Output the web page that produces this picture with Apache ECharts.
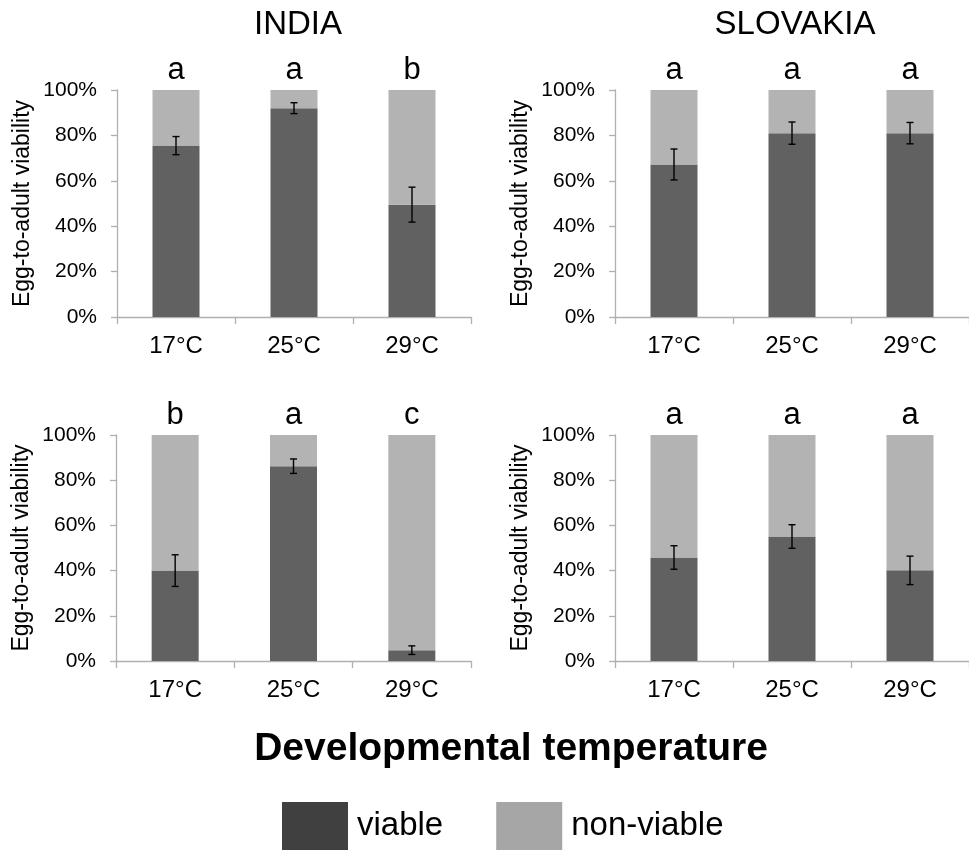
<!DOCTYPE html>
<html>
<head>
<meta charset="utf-8">
<script src="https://cdn.jsdelivr.net/npm/echarts@6/dist/echarts.min.js"></script>
<style>
html,body{margin:0;padding:0;background:#fff;}
#chart{width:969px;height:850px;}
</style>
</head>
<body>
<div id="chart"></div>
<script>
// ---- data ----
const categories = ['17°C', '25°C', '29°C'];
const columnTitles = ['INDIA', 'SLOVAKIA'];

const indiaTopViable = [75.5, 92.0, 49.5];
const indiaTopErr = [4.0, 2.4, 7.7];
const indiaTopLetters = ['a', 'a', 'b'];

const slovakiaTopViable = [67.2, 81.0, 81.0];
const slovakiaTopErr = [6.8, 4.9, 4.7];
const slovakiaTopLetters = ['a', 'a', 'a'];

const indiaBottomViable = [40.0, 86.2, 4.8];
const indiaBottomErr = [7.0, 3.2, 1.9];
const indiaBottomLetters = ['b', 'a', 'c'];

const slovakiaBottomViable = [45.8, 55.1, 40.1];
const slovakiaBottomErr = [5.2, 5.2, 6.3];
const slovakiaBottomLetters = ['a', 'a', 'a'];

const xTitle = 'Developmental temperature';
const yTitle = 'Egg-to-adult viability';
const legendNames = ['viable', 'non-viable'];

// ---- layout / style ----
const FONT = "'Liberation Sans', Arial, sans-serif";
const DARK = '#616161', LIGHT = '#b3b3b3';
const AXIS = '#b0b0b0';

const panels = [
  {v: indiaTopViable, e: indiaTopErr, l: indiaTopLetters, grid: {left: 117, top: 90, width: 354, height: 227}},
  {v: slovakiaTopViable, e: slovakiaTopErr, l: slovakiaTopLetters, grid: {left: 615, top: 90, width: 354, height: 227}},
  {v: indiaBottomViable, e: indiaBottomErr, l: indiaBottomLetters, grid: {left: 116, top: 435, width: 355, height: 226}},
  {v: slovakiaBottomViable, e: slovakiaBottomErr, l: slovakiaBottomLetters, grid: {left: 615, top: 435, width: 354, height: 226}}
];

const grids = [], xAxes = [], yAxes = [], series = [];
panels.forEach((p, i) => {
  grids.push(Object.assign({containLabel: false}, p.grid));
  xAxes.push({
    type: 'category', gridIndex: i, data: categories,
    axisLine: {show: true, lineStyle: {color: AXIS, width: 1.3}},
    axisTick: {show: true, length: 7, lineStyle: {color: AXIS, width: 1.3}},
    axisLabel: {fontFamily: FONT, fontSize: 24, color: '#000', margin: 17}
  });
  yAxes.push({
    type: 'value', gridIndex: i, min: 0, max: 100, interval: 20,
    name: yTitle, nameLocation: 'middle', nameGap: 83, nameRotate: 90,
    nameTextStyle: {fontFamily: FONT, fontSize: 23, color: '#000'},
    axisLine: {show: true, lineStyle: {color: AXIS, width: 1.3}},
    axisTick: {show: true, length: 6, lineStyle: {color: AXIS, width: 1.3}},
    splitLine: {show: false},
    axisLabel: {fontFamily: FONT, fontSize: 21, color: '#000', margin: 20, formatter: '{value}%'}
  });
  const letters = p.l;
  series.push({
    name: legendNames[0], type: 'bar', xAxisIndex: i, yAxisIndex: i, stack: 's' + i,
    barWidth: 47, itemStyle: {color: DARK}, data: p.v, silent: true
  });
  series.push({
    name: legendNames[1], type: 'bar', xAxisIndex: i, yAxisIndex: i, stack: 's' + i,
    barWidth: 47, itemStyle: {color: LIGHT}, data: p.v.map(v => +(100 - v).toFixed(2)), silent: true,
    label: {show: true, position: 'top', distance: 4, fontFamily: FONT, fontSize: 31, color: '#000',
      formatter: (d) => letters[d.dataIndex]}
  });
  series.push({
    name: 'err' + i, type: 'custom', xAxisIndex: i, yAxisIndex: i, silent: true, z: 10,
    data: p.v.map((v, k) => [k, v - p.e[k], v + p.e[k]]),
    encode: {x: 0, y: [1, 2]},
    renderItem: function (params, api) {
      const lo = api.coord([api.value(0), api.value(1)]);
      const hi = api.coord([api.value(0), api.value(2)]);
      const x = lo[0], c = 3.5;
      const st = {stroke: '#000', lineWidth: 1.4};
      return {type: 'group', children: [
        {type: 'line', shape: {x1: x, y1: lo[1], x2: x, y2: hi[1]}, style: st},
        {type: 'line', shape: {x1: x - c, y1: lo[1], x2: x + c, y2: lo[1]}, style: st},
        {type: 'line', shape: {x1: x - c, y1: hi[1], x2: x + c, y2: hi[1]}, style: st}
      ]};
    }
  });
});

const chart = echarts.init(document.getElementById('chart'), null, {renderer: 'canvas'});
chart.setOption({
  backgroundColor: '#fff',
  animation: false,
  grid: grids, xAxis: xAxes, yAxis: yAxes, series: series,
  legend: {
    left: 282, top: 802, padding: 0, itemWidth: 66, itemHeight: 48, itemGap: 53, icon: 'rect',
    selectedMode: false,
    textStyle: {fontFamily: FONT, fontSize: 33, color: '#000', padding: [8, 0, 0, 4]},
    data: [
      {name: legendNames[0], itemStyle: {color: '#404040'}},
      {name: legendNames[1], itemStyle: {color: '#a6a6a6'}}
    ]
  },
  graphic: [
    {type: 'text', x: 298, y: 25, style: {text: columnTitles[0], font: '33px ' + FONT, fill: '#000', textAlign: 'center', textVerticalAlign: 'middle'}},
    {type: 'text', x: 795, y: 25, style: {text: columnTitles[1], font: '33px ' + FONT, fill: '#000', textAlign: 'center', textVerticalAlign: 'middle'}},
    {type: 'text', x: 511, y: 749, style: {text: xTitle, font: 'bold 39px ' + FONT, fill: '#000', textAlign: 'center', textVerticalAlign: 'middle'}}
  ]
});
</script>
</body>
</html>
